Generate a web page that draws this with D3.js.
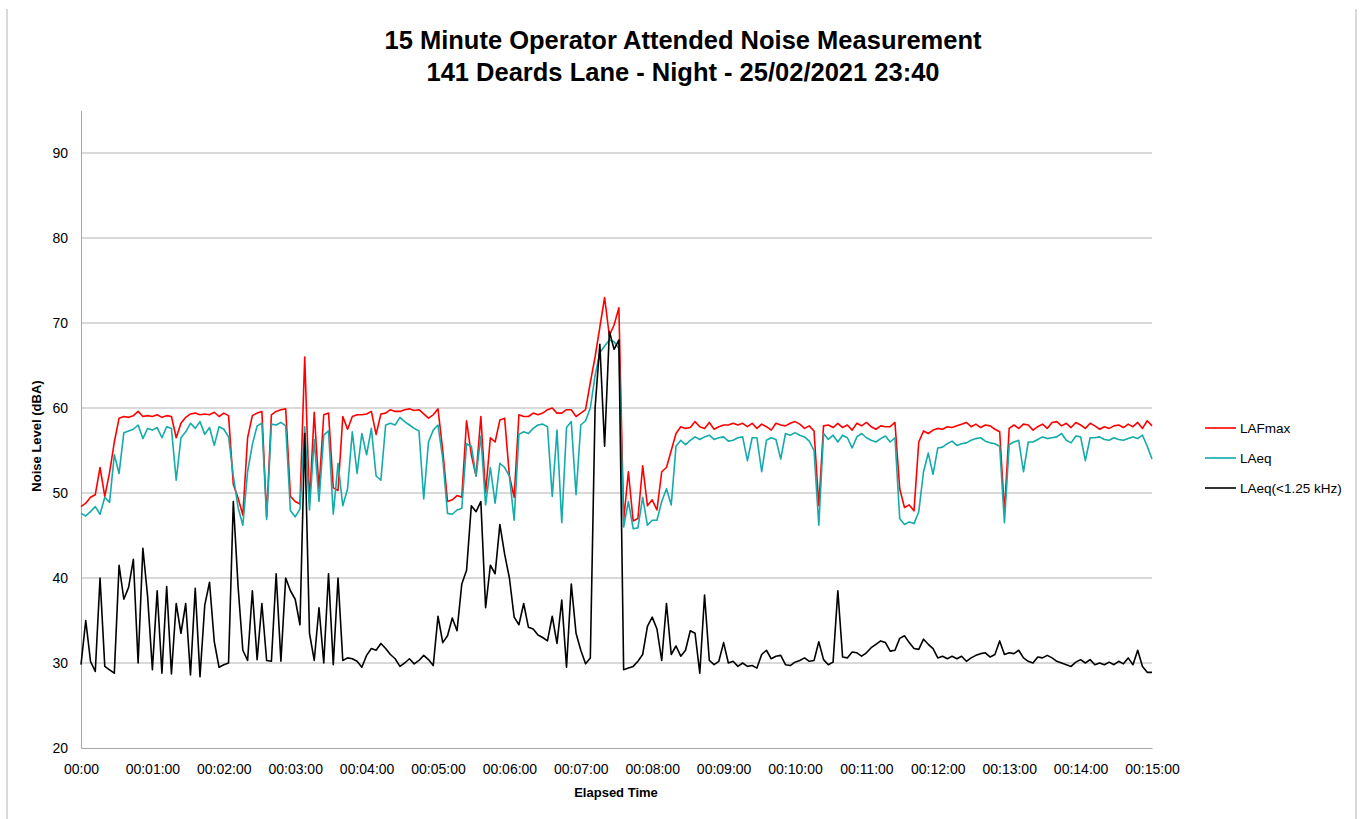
<html>
<head>
<meta charset="utf-8">
<style>
  body { margin: 0; background: #fff; }
  text { font-family: 'Liberation Sans', Arial, sans-serif; }
</style>
</head>
<body>
  <div id="chart"></div>
  <script src="https://cdn.jsdelivr.net/npm/d3@7"></script>
  <script>
    // samples every 4 s over the 15 minute measurement (one row = one minute)
    var stepSeconds = 4;

    var lafmax = [
      48.4,48.8,49.5,49.8,53.0,49.6,52.4,56.0,58.8,59.0,58.9,59.1,59.6,59.0,59.1,
      59.0,59.2,58.9,59.1,59.0,56.5,58.2,58.9,59.3,59.4,59.2,59.3,59.2,59.5,59.0,
      59.4,59.1,51.0,49.4,47.4,56.5,59.1,59.4,59.6,47.2,59.2,59.6,59.8,59.9,49.6,
      49.0,48.7,66.0,48.8,59.5,50.5,59.2,59.4,50.6,50.3,59.0,57.5,59.0,59.2,59.2,
      59.3,59.6,56.9,59.3,59.4,59.8,59.6,59.6,59.8,59.9,59.7,59.8,59.3,58.8,59.2,
      59.9,55.0,49.0,49.2,49.7,49.5,58.5,54.5,52.0,59.0,50.0,56.5,56.0,58.6,58.8,
      52.0,49.5,59.2,59.0,59.0,59.4,59.2,59.4,59.8,60.0,59.4,59.4,59.8,59.8,59.0,
      59.4,59.8,63.0,66.0,69.5,73.0,68.5,69.8,71.8,46.8,52.5,46.7,47.0,53.2,48.5,
      49.2,48.0,52.5,53.0,55.0,57.0,57.8,57.6,57.7,58.4,57.8,57.6,58.3,57.5,57.8,
      58.0,58.0,58.2,58.0,58.2,57.8,58.2,57.6,58.1,57.8,57.4,58.2,58.0,57.9,58.2,
      58.4,58.1,57.6,57.9,57.3,48.5,57.9,58.0,57.7,58.2,57.7,58.0,57.4,58.2,57.9,
      58.3,57.8,57.5,57.9,57.8,57.8,58.3,50.5,48.3,48.6,47.9,56.0,57.3,57.0,57.4,
      57.6,57.5,57.8,57.7,57.9,58.1,58.3,57.8,58.1,57.7,58.0,57.9,57.5,57.2,47.8,
      57.6,58.0,57.6,58.1,58.0,57.4,57.8,58.1,57.6,58.3,58.4,57.9,58.2,57.7,58.3,
      58.0,57.6,58.2,57.9,57.5,57.8,57.6,57.9,58.0,57.7,58.1,57.8,58.3,57.6,58.5,
      57.9
    ];

    var laeq = [
      47.6,47.3,47.8,48.4,47.5,49.5,48.9,54.5,52.3,57.1,57.3,57.5,58.0,56.4,57.6,
      57.4,57.7,56.5,57.8,57.6,51.5,56.5,57.2,58.2,57.6,58.4,56.9,57.7,55.6,57.8,
      57.5,56.6,52.0,48.3,46.2,52.5,55.7,57.9,58.2,46.9,58.1,58.0,58.3,57.9,47.9,
      47.2,48.1,57.8,48.0,56.3,49.0,56.8,57.3,47.5,53.5,48.5,50.5,57.2,52.3,57.0,
      54.5,57.6,52.0,51.5,58.0,58.2,58.0,58.9,58.4,58.0,57.6,57.3,49.3,56.0,57.4,
      58.0,54.0,47.6,47.5,48.0,48.2,55.8,55.5,52.0,56.7,48.6,53.0,48.8,53.5,53.0,
      52.0,46.8,56.9,57.2,57.0,57.6,58.0,58.1,57.8,49.6,57.4,46.5,57.7,58.4,49.8,
      58.0,58.5,60.0,63.8,66.5,67.3,68.0,67.8,67.0,46.0,49.0,45.8,45.9,49.5,46.2,
      46.8,46.8,49.0,50.5,48.6,55.5,56.2,55.7,56.2,56.6,56.3,56.6,56.8,56.3,56.5,
      56.6,56.1,56.2,56.5,56.6,53.8,56.5,56.5,52.5,56.2,56.5,56.3,54.0,57.0,56.8,
      57.1,56.8,56.6,56.1,55.0,46.2,57.0,56.3,56.8,56.0,56.8,56.5,55.3,56.6,57.0,
      56.5,56.2,56.0,56.4,56.7,56.0,56.5,47.0,46.3,46.6,46.4,47.8,52.5,54.7,52.2,
      55.3,55.4,55.8,56.1,55.6,55.8,55.9,56.2,56.4,56.5,56.1,55.9,55.8,55.5,46.5,
      55.7,56.0,56.2,52.5,56.0,56.0,56.3,56.6,56.4,56.5,56.6,57.0,56.2,55.9,56.7,
      56.6,53.8,56.5,56.5,56.6,56.3,56.2,56.5,56.3,56.2,56.4,56.6,56.4,56.8,55.5,
      54.0
    ];

    var laeqLow = [
      29.8,35.0,30.2,29.0,40.0,29.6,29.2,28.8,41.5,37.5,38.9,42.2,30.0,43.5,37.8,
      29.2,38.5,28.8,39.0,28.7,37.0,33.5,37.0,28.6,38.8,28.4,36.8,39.5,32.5,29.5,
      29.8,30.0,49.0,39.0,31.5,30.3,38.5,30.4,37.0,30.3,30.2,40.5,30.2,40.0,38.5,
      37.5,34.5,57.0,33.5,30.3,36.5,30.0,40.5,29.8,40.0,30.3,30.6,30.5,30.2,29.5,
      30.9,31.7,31.5,32.3,31.7,31.0,30.5,29.6,30.0,30.5,29.9,30.3,30.9,30.4,29.7,
      35.5,32.4,33.2,35.3,33.8,39.3,40.9,48.5,47.8,49.0,36.5,41.5,40.5,46.3,42.8,
      40.0,35.4,34.5,37.0,34.2,34.0,33.3,33.0,32.6,35.5,32.3,37.4,29.5,39.3,33.5,
      31.5,29.9,30.6,60.0,67.5,55.5,69.0,66.9,68.0,29.2,29.4,29.6,30.2,31.0,34.3,
      35.4,34.0,30.3,37.0,31.0,32.0,30.8,31.5,33.8,33.5,28.8,38.0,30.3,29.8,30.2,
      32.4,30.0,30.2,29.6,30.0,29.6,29.7,29.4,31.0,31.5,30.5,30.8,30.9,29.8,29.7,
      30.1,30.3,30.6,30.2,30.3,32.5,30.4,29.8,30.1,38.5,30.7,30.6,31.3,31.2,30.8,
      31.2,31.8,32.2,32.6,32.4,31.4,31.5,32.9,33.2,32.4,31.7,31.6,32.8,32.2,31.7,
      30.6,30.8,30.5,30.8,30.5,30.8,30.2,30.6,30.9,31.1,31.2,30.7,31.0,32.6,31.0,
      31.2,31.1,31.5,30.6,30.2,30.0,30.7,30.6,30.9,30.6,30.2,30.0,29.8,29.6,30.1,
      30.4,30.0,30.4,29.8,30.0,29.8,30.1,29.8,30.2,29.9,30.6,29.8,31.5,29.6,28.9,
      28.9
    ];

    var xTicks = [0,60,120,180,240,300,360,420,480,540,600,660,720,780,840,900];
    var xTickLabels = ['00:00','00:01:00','00:02:00','00:03:00','00:04:00','00:05:00',
      '00:06:00','00:07:00','00:08:00','00:09:00','00:10:00','00:11:00','00:12:00',
      '00:13:00','00:14:00','00:15:00'];
    var yTicks = [20,30,40,50,60,70,80,90];

    var seriesNames = ['LAFmax','LAeq','LAeq(<1.25 kHz)'];
    var seriesColors = ['#ff0000','#13abab','#000000'];
    var seriesData = [lafmax, laeq, laeqLow];

    var svgWidth = 1364,
        svgHeight = 819,
        plotLeft = 81, plotRight = 1152, plotTop = 110.5, plotBottom = 748;

    var svg = d3.select('#chart').append('svg')
      .attr('width', svgWidth)
      .attr('height', svgHeight);

    // chart frame edges
    svg.append('line').attr('x1',7).attr('x2',7).attr('y1',9).attr('y2',svgHeight)
      .attr('stroke','#b4b4b4');
    svg.append('line').attr('x1',1356).attr('x2',1356).attr('y1',9).attr('y2',svgHeight)
      .attr('stroke','#b4b4b4');

    var x = d3.scaleLinear().domain([0, 900]).range([plotLeft, plotRight]);
    var y = d3.scaleLinear().domain([20, 95]).range([plotBottom, plotTop]);

    // gridlines
    svg.append('g').selectAll('line')
      .data(yTicks.slice(1))
      .enter().append('line')
      .attr('x1', plotLeft).attr('x2', plotRight)
      .attr('y1', function(d){ return y(d); })
      .attr('y2', function(d){ return y(d); })
      .attr('stroke', '#b3b3b3')
      .attr('stroke-width', 1);

    // y axis
    var yAxis = svg.append('g')
      .attr('transform', 'translate(' + plotLeft + ',0)')
      .call(d3.axisLeft(y).tickValues(yTicks).tickSize(0).tickPadding(13));
    yAxis.select('.domain').attr('stroke', '#a6a6a6');
    yAxis.selectAll('text').attr('font-size', 14).attr('fill', '#000')
      .style('font-family', "'Liberation Sans', Arial, sans-serif");

    // x axis
    var xAxis = svg.append('g')
      .attr('transform', 'translate(0,' + plotBottom + ')')
      .call(d3.axisBottom(x).tickValues(xTicks).tickSize(0).tickPadding(16)
        .tickFormat(function(d, i){ return xTickLabels[i]; }));
    xAxis.select('.domain').attr('stroke', '#a6a6a6');
    xAxis.selectAll('text').attr('font-size', 14).attr('fill', '#000')
      .style('font-family', "'Liberation Sans', Arial, sans-serif");

    // series lines
    var line = d3.line()
      .x(function(d, i){ return x(i * stepSeconds); })
      .y(function(d){ return y(d); });

    svg.append('g').selectAll('path')
      .data(seriesData)
      .enter().append('path')
      .attr('d', function(d){ return line(d); })
      .attr('fill', 'none')
      .attr('stroke', function(d, i){ return seriesColors[i]; })
      .attr('stroke-width', 1.6)
      .attr('stroke-linejoin', 'round');

    // titles
    svg.append('text').attr('x', 683).attr('y', 49)
      .attr('text-anchor', 'middle').attr('font-size', 25.5).attr('font-weight', 'bold')
      .text('15 Minute Operator Attended Noise Measurement');
    svg.append('text').attr('x', 683).attr('y', 81)
      .attr('text-anchor', 'middle').attr('font-size', 25.5).attr('font-weight', 'bold')
      .text('141 Deards Lane - Night - 25/02/2021 23:40');

    svg.append('text').attr('x', 616).attr('y', 797)
      .attr('text-anchor', 'middle').attr('font-size', 13).attr('font-weight', 'bold')
      .text('Elapsed Time');
    svg.append('text')
      .attr('transform', 'translate(41,436) rotate(-90)')
      .attr('text-anchor', 'middle').attr('font-size', 13).attr('font-weight', 'bold')
      .text('Noise Level (dBA)');

    // legend
    var legend = svg.append('g').selectAll('g')
      .data(seriesNames)
      .enter().append('g')
      .attr('transform', function(d, i){ return 'translate(1205,' + (428 + i * 30) + ')'; });
    legend.append('line')
      .attr('x1', 0).attr('x2', 31).attr('y1', 0).attr('y2', 0)
      .attr('stroke', function(d, i){ return seriesColors[i]; })
      .attr('stroke-width', 1.6);
    legend.append('text')
      .attr('x', 35).attr('y', 5)
      .attr('font-size', 13.5)
      .text(function(d){ return d; });
  </script>
</body>
</html>
